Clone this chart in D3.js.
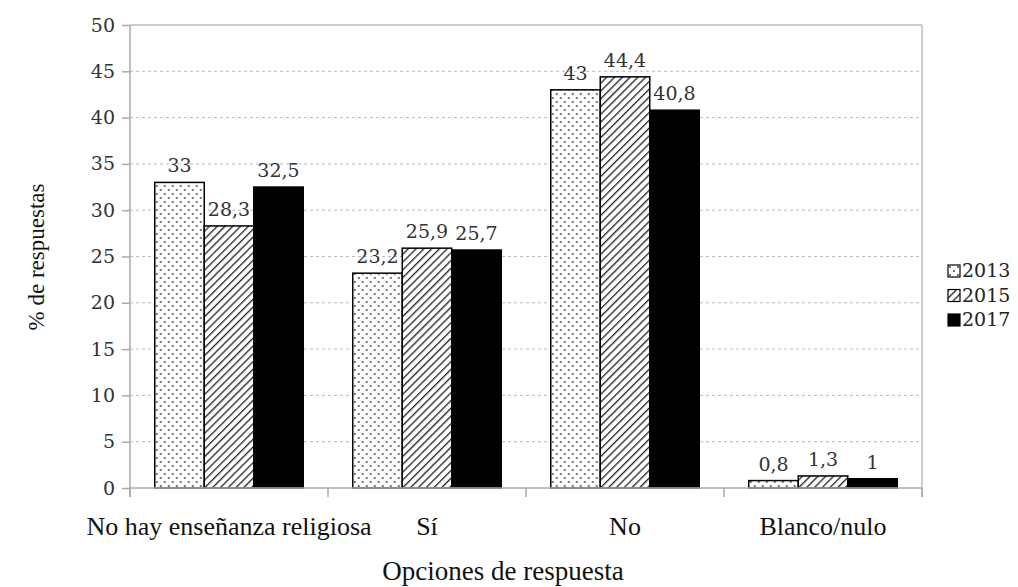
<!DOCTYPE html>
<html>
<head>
<meta charset="utf-8">
<script src="https://cdn.jsdelivr.net/npm/d3@7"></script>
<style>
  body { margin: 0; background: #fff; }
</style>
</head>
<body>
<script>
(function(){
    var categories = ["No hay enseñanza religiosa", "Sí", "No", "Blanco/nulo"];
    var years = ["2013", "2015", "2017"];
    var values2013 = [33, 23.2, 43, 0.8];
    var values2015 = [28.3, 25.9, 44.4, 1.3];
    var values2017 = [32.5, 25.7, 40.8, 1];
    var yTicks = [0, 5, 10, 15, 20, 25, 30, 35, 40, 45, 50];
    var series = [values2013, values2015, values2017];

    var width = 1018, height = 587;
    var left = 130, right = 922, top = 25, bottom = 488;
    var numFont = "'DejaVu Serif', 'Liberation Serif', serif";
    var textFont = "'Liberation Serif', serif";

    var svg = d3.select("body").append("svg")
        .attr("width", width).attr("height", height);

    var defs = svg.append("defs");
    var dots = defs.append("pattern").attr("id", "dots")
        .attr("patternUnits", "userSpaceOnUse")
        .attr("width", 8).attr("height", 8);
    dots.append("rect").attr("width", 8).attr("height", 8).attr("fill", "#fff");
    dots.append("circle").attr("cx", 2).attr("cy", 2).attr("r", 0.9).attr("fill", "#333");
    dots.append("circle").attr("cx", 6).attr("cy", 6).attr("r", 0.9).attr("fill", "#333");

    var hatch = defs.append("pattern").attr("id", "hatch")
        .attr("patternUnits", "userSpaceOnUse")
        .attr("width", 5.5).attr("height", 5.5)
        .attr("patternTransform", "rotate(45)");
    hatch.append("rect").attr("width", 5.5).attr("height", 5.5).attr("fill", "#fff");
    hatch.append("line").attr("x1", 0).attr("y1", 0).attr("x2", 0).attr("y2", 5.5)
        .attr("stroke", "#222").attr("stroke-width", 2.6);

    var fills = ["url(#dots)", "url(#hatch)", "#000"];

    var x = d3.scaleBand().domain(categories).range([left, right])
        .paddingInner(0.25).paddingOuter(0.125);
    var xs = d3.scaleBand().domain(years).range([0, x.bandwidth()]);
    var y = d3.scaleLinear().domain([0, 50]).range([bottom, top]);

    // grid lines
    svg.append("g").selectAll("line").data(yTicks.slice(1, -1)).enter()
        .append("line")
        .attr("x1", left).attr("x2", right)
        .attr("y1", function(d){ return y(d); })
        .attr("y2", function(d){ return y(d); })
        .attr("stroke", "#bbb").attr("stroke-dasharray", "3,3");

    // frame top/right
    svg.append("line").attr("x1", left).attr("x2", right)
        .attr("y1", y(50)).attr("y2", y(50)).attr("stroke", "#bbb").attr("stroke-width", 1.5);
    svg.append("line").attr("x1", right).attr("x2", right)
        .attr("y1", top).attr("y2", bottom + 9).attr("stroke", "#bbb").attr("stroke-width", 1.5);

    // bars
    var groups = svg.append("g").selectAll("g").data(categories).enter()
        .append("g").attr("transform", function(d){ return "translate(" + x(d) + ",0)"; });

    groups.selectAll("rect").data(function(d, i){
        return years.map(function(yr, j){ return {year: yr, value: series[j][i], j: j}; });
    }).enter().append("rect")
        .attr("x", function(d){ return xs(d.year); })
        .attr("width", xs.bandwidth())
        .attr("y", function(d){ return y(d.value); })
        .attr("height", function(d){ return y(0) - y(d.value); })
        .attr("fill", function(d){ return fills[d.j]; })
        .attr("stroke", "#000").attr("stroke-width", 1.5);

    groups.selectAll("text").data(function(d, i){
        return years.map(function(yr, j){ return {year: yr, value: series[j][i]}; });
    }).enter().append("text")
        .attr("x", function(d){ return xs(d.year) + xs.bandwidth() / 2; })
        .attr("y", function(d){ return y(d.value) - 10; })
        .attr("text-anchor", "middle")
        .attr("font-family", numFont).attr("font-size", 19).attr("fill", "#333")
        .text(function(d){ return String(d.value).replace(".", ","); });

    // y axis
    var yAxis = svg.append("g").attr("transform", "translate(" + left + ",0)")
        .call(d3.axisLeft(y).tickValues(yTicks).tickSize(8).tickSizeOuter(0).tickPadding(7));
    yAxis.select(".domain").remove();
    yAxis.selectAll(".tick line").attr("stroke", "#aaa").attr("stroke-width", 1.5);
    yAxis.selectAll("text").attr("font-family", numFont).attr("font-size", 19).attr("fill", "#333");
    svg.append("line").attr("x1", left).attr("x2", left)
        .attr("y1", top).attr("y2", bottom + 9).attr("stroke", "#aaa").attr("stroke-width", 1.5);

    // x axis
    svg.append("line").attr("x1", left).attr("x2", right)
        .attr("y1", bottom).attr("y2", bottom).attr("stroke", "#aaa").attr("stroke-width", 1.5);
    var boundaries = categories.map(function(c){ return x(c) - x.step() * 0.125; }).concat([right]);
    svg.append("g").selectAll("line").data(boundaries).enter().append("line")
        .attr("x1", function(d){ return d; }).attr("x2", function(d){ return d; })
        .attr("y1", bottom).attr("y2", bottom + 9)
        .attr("stroke", "#aaa").attr("stroke-width", 1.5);

    svg.append("g").selectAll("text").data(categories).enter().append("text")
        .attr("x", function(d){ return x(d) + x.bandwidth() / 2; })
        .attr("y", 535)
        .attr("text-anchor", "middle")
        .attr("font-family", textFont).attr("font-size", 26).attr("fill", "#111")
        .text(function(d){ return d; });

    svg.append("text").attr("x", 503).attr("y", 580).attr("text-anchor", "middle")
        .attr("font-family", textFont).attr("font-size", 27).attr("fill", "#111")
        .text("Opciones de respuesta");

    svg.append("text").attr("transform", "translate(44,257) rotate(-90)")
        .attr("text-anchor", "middle")
        .attr("font-family", textFont).attr("font-size", 23).attr("fill", "#111")
        .text("% de respuestas");

    // legend
    var legend = svg.append("g").selectAll("g").data(years).enter().append("g")
        .attr("transform", function(d, i){ return "translate(948," + (265 + i * 24.5) + ")"; });
    legend.append("rect").attr("width", 12).attr("height", 12)
        .attr("fill", function(d, i){ return fills[i]; })
        .attr("stroke", "#000").attr("stroke-width", 1.2);
    legend.append("text").attr("x", 14).attr("y", 12)
        .attr("font-family", numFont).attr("font-size", 19).attr("fill", "#222")
        .text(function(d){ return d; });
})();
</script>
</body>
</html>
